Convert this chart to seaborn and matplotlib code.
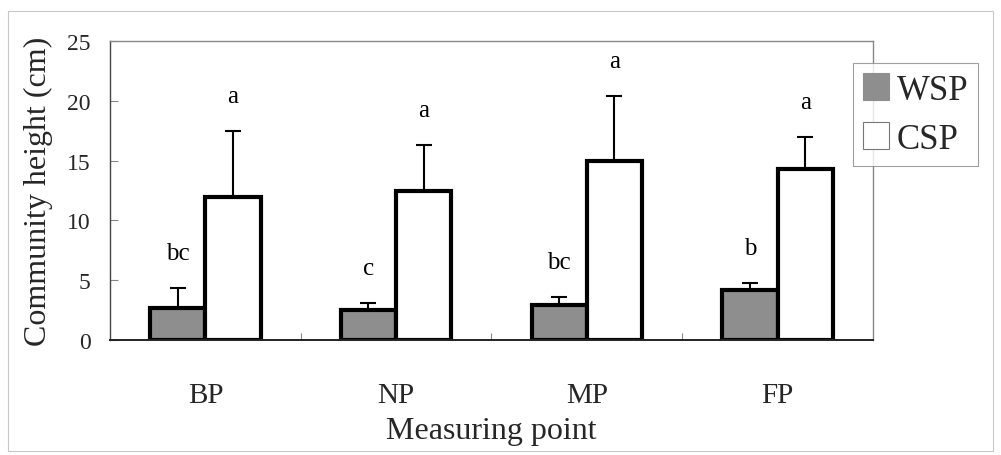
import matplotlib
matplotlib.use("Agg")
import matplotlib.pyplot as plt
import seaborn as sns
import pandas as pd
import numpy as np
from matplotlib.patches import Patch, Rectangle
from matplotlib.ticker import FixedLocator

# ---- data ----
categories = ["BP", "NP", "MP", "FP"]
groups = ["WSP", "CSP"]
wsp_mean = [2.7, 2.5, 2.95, 4.2]
csp_mean = [12.0, 12.5, 14.95, 14.3]
wsp_err = [1.65, 0.6, 0.65, 0.6]
csp_err = [5.5, 3.8, 5.45, 2.7]
wsp_letters = ["bc", "c", "bc", "b"]
csp_letters = ["a", "a", "a", "a"]
y_ticks = [0, 5, 10, 15, 20, 25]

sns.set_theme(style="white")
plt.rcParams["font.family"] = ["Liberation Serif", "DejaVu Serif"]

df = pd.DataFrame({
    "point": categories * 2,
    "group": [groups[0]] * 4 + [groups[1]] * 4,
    "value": wsp_mean + csp_mean,
})

fig = plt.figure(figsize=(10.01, 4.56), dpi=100)
ax = fig.add_axes([0.110, 0.252, 0.762, 0.656])

gray = "#8e8e8e"
sns.barplot(data=df, x="point", y="value", hue="group", order=categories,
            hue_order=groups, palette={"WSP": gray, "CSP": "white"},
            edgecolor="black", linewidth=3.0, width=0.58, gap=0,
            errorbar=None, legend=False, ax=ax, saturation=1)

errs = {"WSP": wsp_err, "CSP": csp_err}
means = {"WSP": wsp_mean, "CSP": csp_mean}
letters = {"WSP": wsp_letters, "CSP": csp_letters}
for container, g in zip(ax.containers, groups):
    for i, bar in enumerate(container):
        xc = bar.get_x() + bar.get_width() / 2
        m = means[g][i]
        e = errs[g][i]
        ax.errorbar([xc], [m], yerr=[[0], [e]], fmt="none", ecolor="black",
                    elinewidth=1.5, capsize=6, capthick=1.5, zorder=1)
        ax.text(xc, m + e + 2.0, letters[g][i], ha="center", va="bottom",
                fontsize=18, color="black")

ax.set_xlim(-0.5, 3.5)
ax.set_ylim(0, 25)
ax.set_yticks(y_ticks)
ax.set_yticklabels([str(t) for t in y_ticks], fontsize=17)
ax.tick_params(axis="y", direction="in", length=6, width=0.8, color="#888888",
               pad=14, left=True)
ax.tick_params(axis="x", which="major", length=0, pad=30, labelsize=21)
ax.xaxis.set_minor_locator(FixedLocator([0.5, 1.5, 2.5]))
ax.tick_params(axis="x", which="minor", direction="in", length=5, width=0.8,
               color="#888888", bottom=True)

ax.set_xlabel("Measuring point", fontsize=23, labelpad=6)
ax.set_ylabel("Community height (cm)", fontsize=23, labelpad=10)

for side in ["top", "right"]:
    ax.spines[side].set_color("#888888")
    ax.spines[side].set_linewidth(1.0)
ax.spines["left"].set_color("#444444")
ax.spines["left"].set_linewidth(1.0)
ax.spines["bottom"].set_color("#222222")
ax.spines["bottom"].set_linewidth(1.4)

handles = [Patch(facecolor=gray, edgecolor=gray, linewidth=0.8, label="WSP"),
           Patch(facecolor="white", edgecolor="#777777", linewidth=0.8, label="CSP")]
leg = fig.legend(handles=handles, loc="upper left",
                 bbox_to_anchor=(853 / 1001, 1 - 64 / 456), fontsize=25,
                 frameon=True, fancybox=False, edgecolor="#888888",
                 handlelength=0.75, handleheight=0.8, handletextpad=0.2,
                 borderpad=0.3, labelspacing=0.45, borderaxespad=0)
leg.get_frame().set_linewidth(0.8)

fig.patches.append(Rectangle((8 / 1001, 4 / 456), 985 / 1001, 440 / 456,
                             transform=fig.transFigure, fill=False,
                             edgecolor="#c8c8c8", linewidth=0.8))

fig.savefig("out.png", dpi=100)
